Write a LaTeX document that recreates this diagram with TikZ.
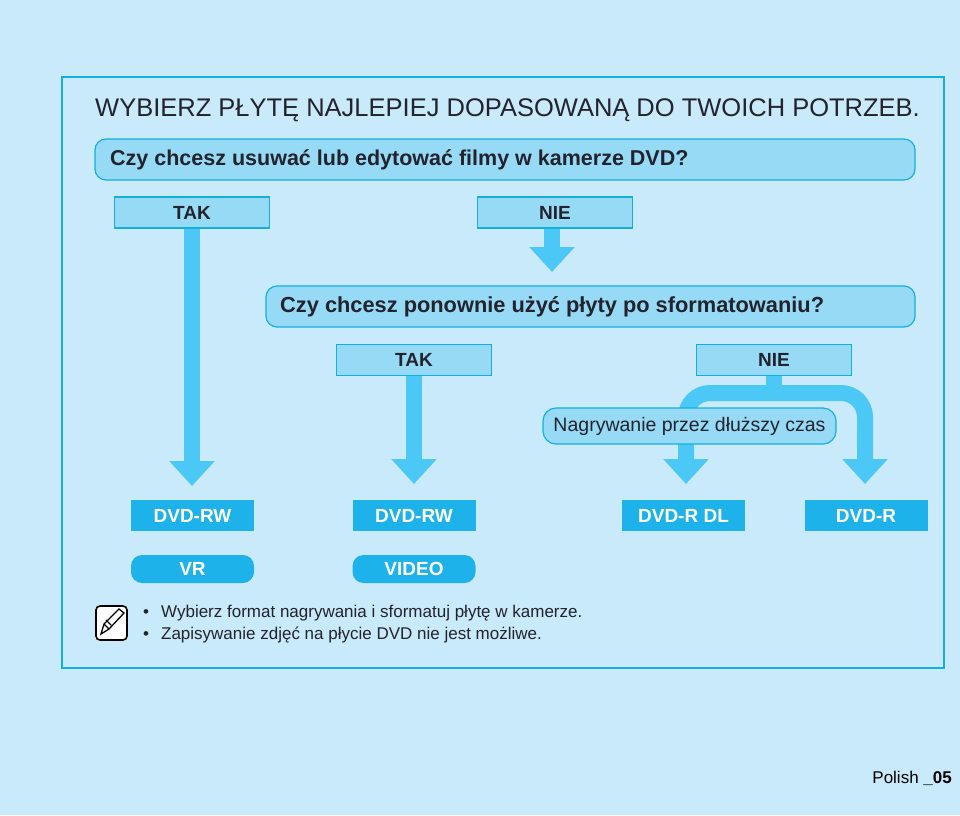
\documentclass[tikz,border=0pt]{standalone}
\usepackage{fontspec}
\setmainfont{Liberation Sans}
\usetikzlibrary{arrows.meta}
\definecolor{bgblue}{RGB}{200,234,250}
\definecolor{frameblue}{RGB}{20,175,225}
\definecolor{boxblue}{RGB}{150,218,246}
\definecolor{arrowblue}{RGB}{75,200,245}
\definecolor{dvdblue}{RGB}{30,178,235}
\definecolor{textgray}{RGB}{35,35,45}
\tikzset{
  qbox/.style={draw=frameblue,line width=1.2pt,fill=boxblue,rounded corners=11pt,anchor=north west,text=textgray},
  ansbox/.style={draw=frameblue,line width=1.2pt,fill=boxblue,minimum width=155pt,minimum height=31pt,inner sep=0pt,text=textgray,font=\bfseries\fontsize{19}{22}\selectfont},
  dvdbox/.style={fill=dvdblue,minimum width=123pt,minimum height=31pt,inner sep=0pt,text=white,font=\bfseries\fontsize{19}{22}\selectfont},
  modebox/.style={fill=dvdblue,rounded corners=11pt,minimum width=123pt,minimum height=28pt,inner sep=0pt,text=white,font=\bfseries\fontsize{19}{22}\selectfont},
  flow/.style={draw=arrowblue,line width=16pt,-{Triangle[width=44pt,length=25pt]}},
  band/.style={draw=arrowblue,line width=16pt},
}
\begin{document}
\begin{tikzpicture}[x=1pt,y=-1pt,line cap=butt,line join=miter]
\useasboundingbox[fill=bgblue] (0,0) rectangle (960,815);
\draw[frameblue,line width=2pt] (62,77) rectangle (944,668);
\node[anchor=west,text=textgray,font=\fontsize{25.5}{27}\selectfont,inner sep=0pt] (title) at (95,110) {WYBIERZ PŁYTĘ NAJLEPIEJ DOPASOWANĄ DO TWOICH POTRZEB.};
% first question
\draw[qbox] (95,139) rectangle (915,180);
\node[anchor=west,text=textgray,font=\bfseries\fontsize{21.5}{22}\selectfont,inner sep=0pt] (q1) at (110,160) {Czy chcesz usuwać lub edytować filmy w kamerze DVD?};
\node[ansbox] (tak1) at (192,212.5) {TAK};
\node[ansbox] (nie1) at (555,212.5) {NIE};
% second question
\draw[qbox] (266,286) rectangle (915,327);
\node[anchor=west,text=textgray,font=\bfseries\fontsize{21.8}{22}\selectfont,inner sep=0pt] (q2) at (280,307) {Czy chcesz ponownie użyć płyty po sformatowaniu?};
\node[ansbox] (tak2) at (414,360) {TAK};
\node[ansbox] (nie2) at (774,360) {NIE};
% results
\node[dvdbox] (rw1) at (192.5,515.5) {DVD-RW};
\node[dvdbox] (rw2) at (414,515.5) {DVD-RW};
\node[dvdbox] (rdl) at (683.5,515.5) {DVD-R DL};
\node[dvdbox] (r) at (866,515.5) {DVD-R};
\node[modebox] (vr) at (192.5,569) {VR};
\node[modebox] (video) at (414,569) {VIDEO};
\coordinate (tip1) at (192,486);
\coordinate (tip2) at (552,272);
\coordinate (tip3) at (414,484);
\coordinate (tip4) at (686,484);
\coordinate (tip5) at (865,484);
\coordinate (fork) at (774,393);
\draw[flow] (tak1.south) -- (tip1);
\draw[flow] (nie1.south -| tip2) -- (tip2);
\draw[flow] (tak2.south) -- (tip3);
\draw[band] (nie2.south) -- (fork);
\draw[band,rounded corners=24pt] (686,460) -- (686,393) -- (865,393) -- (865,460);
\draw[flow] (686,455) -- (tip4);
\draw[flow] (865,455) -- (tip5);
\node[draw=frameblue,line width=1.2pt,fill=boxblue,rounded corners=13pt,minimum width=293pt,minimum height=36pt,inner sep=0pt,text=textgray,font=\fontsize{19.5}{20}\selectfont] (long) at (689.5,426) {Nagrywanie przez dłuższy czas};
% note
\draw[black,line width=1.6pt,fill=white,rounded corners=4pt] (96,606) rectangle (127,640);
\draw[black,line width=1.3pt] (101,634) -- (104,624) -- (119,609) -- (124,613) -- (109,629) -- cycle (104,624) -- (109,629) (106,620) -- (111,625);
\node[anchor=west,text=textgray,font=\fontsize{17}{18}\selectfont,inner sep=0pt] (b1) at (143,613) {•\hspace{12pt}Wybierz format nagrywania i sformatuj płytę w kamerze.};
\node[anchor=west,text=textgray,font=\fontsize{17}{18}\selectfont,inner sep=0pt] (b2) at (143,635) {•\hspace{12pt}Zapisywanie zdjęć na płycie DVD nie jest możliwe.};
\node[anchor=east,text=black,font=\fontsize{17}{19}\selectfont,inner sep=0pt] (page) at (952,778) {Polish \textbf{\_05}};
\end{tikzpicture}
\end{document}
